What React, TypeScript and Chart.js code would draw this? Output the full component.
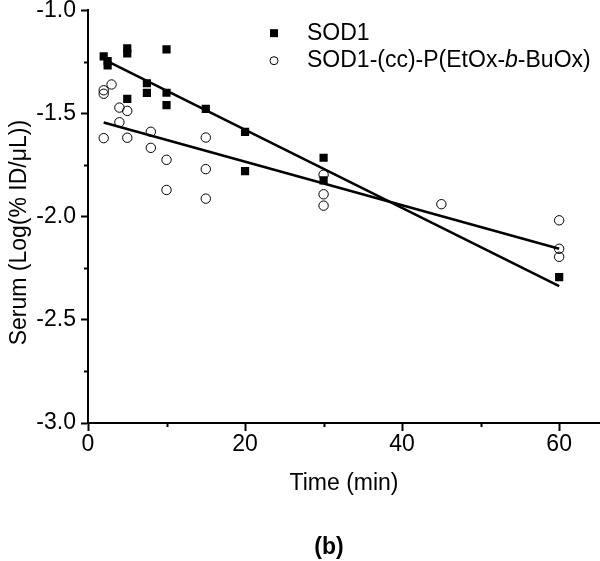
import React, { useEffect, useRef } from 'react';
import { Chart, registerables } from 'chart.js';

Chart.register(...registerables);

// ---- data ----
const sodTime = [2, 2.5, 2.5, 5, 5, 5, 7.5, 7.5, 10, 10, 10, 15, 20, 20, 30, 30, 60];
const sodValue = [-1.224, -1.247, -1.268, -1.185, -1.209, -1.43, -1.354, -1.401, -1.19, -1.4, -1.46, -1.478, -1.59, -1.78, -1.715, -1.825, -2.293];

const conjTime = [2, 2, 2, 3, 4, 4, 5, 5, 8, 8, 10, 10, 15, 15, 15, 30, 30, 30, 45, 60, 60, 60];
const conjValue = [-1.388, -1.405, -1.62, -1.36, -1.472, -1.543, -1.488, -1.618, -1.589, -1.667, -1.725, -1.871, -1.617, -1.77, -1.913, -1.797, -1.892, -1.947, -1.94, -2.018, -2.156, -2.195];

// fitted lines (end points)
const sodFitTime = [2, 60];
const sodFitValue = [-1.238, -2.337];
const conjFitTime = [2, 60];
const conjFitValue = [-1.544, -2.156];

const seriesLabels = ['SOD1', 'SOD1-(cc)-P(EtOx-b-BuOx)'];
const xTickValues = [0, 10, 20, 30, 40, 50, 60];
const xLabelValues = [0, 20, 40, 60];
const yTickValues = [-3, -2.75, -2.5, -2.25, -2, -1.75, -1.5, -1.25, -1];
const yLabelValues = [-3, -2.5, -2, -1.5, -1];

const xTitle = 'Time (min)';
const yTitle = 'Serum (Log(% ID/\u03BCL))';
const panelLabel = '(b)';

const FONT = '"Liberation Sans", Arial, Helvetica, sans-serif';

const toPoints = (xs: number[], ys: number[]) => xs.map((x, i) => ({ x, y: ys[i] }));

const isXMajor = (v: number) => xLabelValues.some((m) => Math.abs(m - v) < 1e-6);
const isYMajor = (v: number) => yLabelValues.some((m) => Math.abs(m - v) < 1e-6);

// legend text segments (italic b)
const legendSegments: [string, boolean][][] = [
  [[seriesLabels[0], false]],
  [['SOD1-(cc)-P(EtOx-', false], ['b', true], ['-BuOx)', false]],
];

const decorations = {
  id: 'decorations',
  afterDraw(chart: any) {
    const ctx: CanvasRenderingContext2D = chart.ctx;
    const xs = chart.scales.x;
    const ys = chart.scales.y;
    const area = chart.chartArea;
    ctx.save();
    ctx.strokeStyle = '#000';
    ctx.lineWidth = 2;
    // minor ticks
    xs.ticks.forEach((t: any) => {
      if (!isXMajor(t.value)) {
        const px = Math.round(xs.getPixelForValue(t.value)) + 0.5;
        ctx.beginPath();
        ctx.moveTo(px, area.bottom);
        ctx.lineTo(px, area.bottom + 4);
        ctx.stroke();
      }
    });
    ys.ticks.forEach((t: any) => {
      if (!isYMajor(t.value)) {
        const py = Math.round(ys.getPixelForValue(t.value)) + 0.5;
        ctx.beginPath();
        ctx.moveTo(area.left, py);
        ctx.lineTo(area.left - 4, py);
        ctx.stroke();
      }
    });

    // y-axis title
    ctx.save();
    ctx.translate(20, (area.top + area.bottom) / 2 + 16);
    ctx.rotate(-Math.PI / 2);
    ctx.font = `23px ${FONT}`;
    ctx.fillStyle = '#000';
    ctx.textAlign = 'center';
    ctx.textBaseline = 'middle';
    ctx.fillText(yTitle, 0, 0);
    ctx.restore();

    // legend
    const lx = area.left + 186;
    const ly = area.top + 23;
    const rowGap = 27.5;
    chart.data.datasets.slice(0, 2).forEach((ds: any, i: number) => {
      const cy = ly + i * rowGap;
      ctx.beginPath();
      if (ds.pointStyle === 'rect') {
        ctx.fillStyle = '#000';
        ctx.fillRect(lx - 4, cy - 4, 8, 8);
      } else {
        ctx.lineWidth = 1;
        ctx.strokeStyle = '#000';
        ctx.arc(lx, cy, 4, 0, Math.PI * 2);
        ctx.stroke();
      }
      let tx = lx + 33;
      ctx.fillStyle = '#000';
      ctx.textBaseline = 'middle';
      ctx.textAlign = 'left';
      legendSegments[i].forEach(([txt, it]) => {
        ctx.font = `${it ? 'italic ' : ''}23px ${FONT}`;
        ctx.fillText(txt, tx, cy);
        tx += ctx.measureText(txt).width;
      });
    });

    // panel label
    ctx.font = `bold 23px ${FONT}`;
    ctx.textAlign = 'center';
    ctx.textBaseline = 'middle';
    ctx.fillStyle = '#000';
    ctx.fillText(panelLabel, 329, 548);
    ctx.restore();
  },
};

export default function App() {
  const ref = useRef<HTMLCanvasElement | null>(null);

  useEffect(() => {
    if (!ref.current) return;
    const chart = new Chart(ref.current, {
      type: 'scatter',
      data: {
        datasets: [
          {
            label: seriesLabels[0],
            data: toPoints(sodTime, sodValue),
            pointStyle: 'rect',
            pointRadius: 5.8,
            backgroundColor: '#000',
            borderColor: '#000',
            borderWidth: 0,
          },
          {
            label: seriesLabels[1],
            data: toPoints(conjTime, conjValue),
            pointStyle: 'circle',
            pointRadius: 4.7,
            backgroundColor: 'rgba(0,0,0,0)',
            borderColor: '#000',
            borderWidth: 1,
          },
          {
            label: 'fit1',
            data: toPoints(sodFitTime, sodFitValue),
            showLine: true,
            pointRadius: 0,
            borderColor: '#000',
            borderWidth: 2.5,
          },
          {
            label: 'fit2',
            data: toPoints(conjFitTime, conjFitValue),
            showLine: true,
            pointRadius: 0,
            borderColor: '#000',
            borderWidth: 2.5,
          },
        ],
      } as any,
      options: {
        animation: false,
        responsive: false,
        devicePixelRatio: 1,
        layout: { autoPadding: false, padding: { top: 0, right: 0, bottom: 50, left: 0 } },
        plugins: {
          legend: { display: false },
          tooltip: { enabled: false },
        },
        scales: {
          x: {
            type: 'linear',
            min: 0,
            max: 65.2,
            afterBuildTicks: (scale: any) => {
              scale.ticks = xTickValues.map((v) => ({ value: v }));
            },
            afterFit: (scale: any) => {
              scale.height = 88;
            },
            border: { display: true, color: '#000', width: 2 },
            grid: {
              display: true,
              drawOnChartArea: false,
              drawTicks: true,
              tickLength: 8,
              tickWidth: 2,
              tickColor: (c: any) => (c.tick && isXMajor(c.tick.value) ? '#000' : 'rgba(0,0,0,0)'),
            },
            ticks: {
              autoSkip: false,
              maxRotation: 0,
              padding: 0,
              color: '#000',
              font: { family: FONT, size: 23 },
              callback: (v: any) => (isXMajor(Number(v)) ? String(v) : ''),
            },
            title: {
              display: true,
              text: xTitle,
              color: '#000',
              font: { family: FONT, size: 23 },
              padding: { top: 0, bottom: 14 },
            },
          },
          y: {
            type: 'linear',
            min: -3,
            max: -1,
            afterBuildTicks: (scale: any) => {
              scale.ticks = yTickValues.map((v) => ({ value: v }));
            },
            afterFit: (scale: any) => {
              scale.width = 88;
            },
            border: { display: true, color: '#000', width: 2 },
            grid: {
              display: true,
              drawOnChartArea: false,
              drawTicks: true,
              tickLength: 7,
              tickWidth: 2,
              tickColor: (c: any) => (c.tick && isYMajor(c.tick.value) ? '#000' : 'rgba(0,0,0,0)'),
            },
            ticks: {
              autoSkip: false,
              padding: 5,
              color: '#000',
              font: { family: FONT, size: 23, lineHeight: 0.45 },
              callback: (v: any) => (isYMajor(Number(v)) ? Number(v).toFixed(1) : ''),
            },
            title: { display: false },
          },
        },
      } as any,
      plugins: [decorations],
    });
    return () => chart.destroy();
  }, []);

  return (
    <div style={{ position: 'fixed', left: 0, top: 0, width: 600, height: 561, background: '#fff' }}>
      <canvas ref={ref} width={600} height={561} style={{ display: 'block' }} />
    </div>
  );
}
